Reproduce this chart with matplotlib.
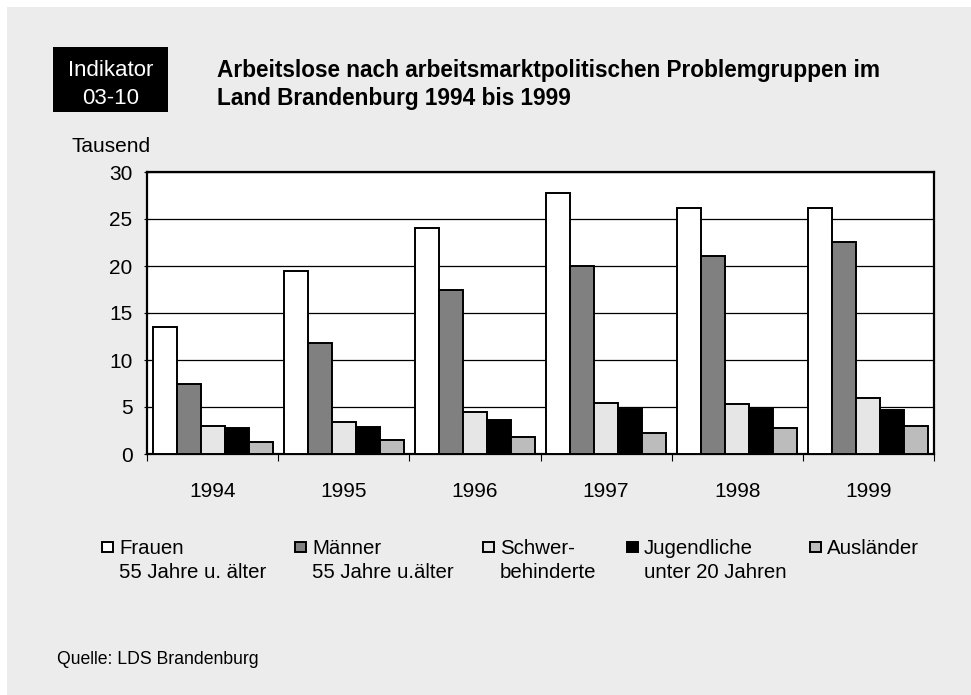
import numpy as np
import matplotlib
matplotlib.use('Agg')
import matplotlib.pyplot as plt
from matplotlib.patches import Rectangle

plt.rcParams['font.family'] = ['Liberation Sans', 'DejaVu Sans']

years = ['1994', '1995', '1996', '1997', '1998', '1999']
frauen = [13.5, 19.5, 24.0, 27.8, 26.2, 26.2]
maenner = [7.5, 11.85, 17.45, 19.95, 21.1, 22.6]
schwer = [3.0, 3.45, 4.5, 5.45, 5.35, 6.0]
jugend = [2.75, 2.85, 3.6, 4.8, 4.8, 4.65]
auslaender = [1.25, 1.5, 1.85, 2.25, 2.75, 3.0]

labels = ['Frauen\n55 Jahre u. älter', 'Männer\n55 Jahre u.älter', 'Schwer-\nbehinderte',
          'Jugendliche\nunter 20 Jahren', 'Ausländer']
colors = ['white', '#808080', '#e6e6e6', 'black', '#bcbcbc']
series = [frauen, maenner, schwer, jugend, auslaender]

W, H = 971, 695
fig = plt.figure(figsize=(W / 100, H / 100), dpi=100)
fig.patch.set_facecolor('white')
# grey panel
fig.patches.append(Rectangle((7 / W, 0), 1, 1 - 7 / H, transform=fig.transFigure,
                             facecolor='#ececec', edgecolor='none', zorder=-10))

def fx(px):
    return px / W

def fy(py):
    return 1 - py / H

# Indikator box
fig.patches.append(Rectangle((fx(53), fy(112)), fx(168) - fx(53), fy(47) - fy(112),
                             transform=fig.transFigure, facecolor='black', edgecolor='none'))
fig.text(fx(110.5), fy(70), 'Indikator', color='white', fontsize=16, ha='center', va='center')
fig.text(fx(110.5), fy(98), '03-10', color='white', fontsize=16, ha='center', va='center')

fig.text(fx(217), fy(70), 'Arbeitslose nach arbeitsmarktpolitischen Problemgruppen im',
         fontsize=16.3, fontweight='bold', ha='left', va='center')
fig.text(fx(217), fy(98), 'Land Brandenburg 1994 bis 1999',
         fontsize=16.3, fontweight='bold', ha='left', va='center')

fig.text(fx(71), fy(147), 'Tausend', fontsize=15, ha='left', va='center')

ax = fig.add_axes([fx(147), fy(454), fx(934) - fx(147), fy(172) - fy(454)])
ax.set_facecolor('white')

x = np.arange(len(years))
bw = 0.183
for i, (vals, c) in enumerate(zip(series, colors)):
    ax.bar(x - 0.5 + 0.0425 + bw * (i + 0.5), vals, width=bw, color=c,
           edgecolor='black', linewidth=1.4, zorder=3)

ax.set_xlim(-0.5, len(years) - 0.5)
ax.set_ylim(0, 30)
ax.set_yticks(np.arange(0, 31, 5))
ax.set_yticklabels([str(v) for v in range(0, 31, 5)], fontsize=15)
ax.yaxis.grid(True, color='black', linewidth=0.9, zorder=0)
ax.set_axisbelow(True)

ax.set_xticks(x)
ax.set_xticklabels(years, fontsize=15)
ax.tick_params(axis='x', which='major', length=0, pad=20)
ax.set_xticks(np.arange(-0.5, len(years) + 0.5, 1), minor=True)
ax.tick_params(axis='x', which='minor', length=5, width=0.8, direction='out')
ax.tick_params(axis='y', length=5, width=0.8, direction='inout', pad=8)
for s in ax.spines.values():
    s.set_linewidth(1.6)

# legend
mark_x = [102, 295, 483, 627, 810]
for lab, c, mx in zip(labels, colors, mark_x):
    fig.patches.append(Rectangle((fx(mx), fy(552)), fx(11), 10 / H, transform=fig.transFigure,
                                 facecolor=c, edgecolor='black', linewidth=1.4))
    for k, line in enumerate(lab.split('\n')):
        fig.text(fx(mx + 17), fy(549 + 24 * k), line, fontsize=14.7, ha='left', va='center')

fig.text(fx(57), fy(660), 'Quelle: LDS Brandenburg', fontsize=12.7, ha='left', va='center')

fig.savefig('out.png', dpi=100, facecolor=fig.get_facecolor())
